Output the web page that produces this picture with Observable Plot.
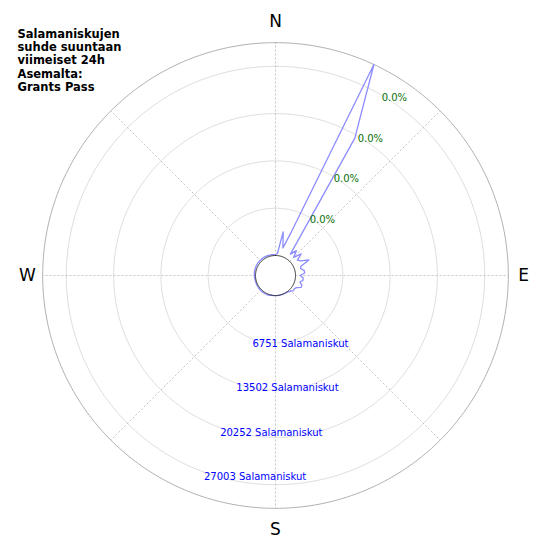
<!DOCTYPE html>
<html>
<head>
<meta charset="utf-8">
<script src="https://cdn.jsdelivr.net/npm/d3@7"></script>
<script src="https://cdn.jsdelivr.net/npm/@observablehq/plot@0.6"></script>
<style>
  html, body { margin: 0; padding: 0; background: white; }
</style>
</head>
<body>
<div id="chart"></div>
<script>
// ---- data ----
const titleLines = ["Salamaniskujen", "suhde suuntaan", "viimeiset 24h", "Asemalta:", "Grants Pass"];
const directions = [0,5,10,15,20,25,30,35,40,45,50,55,60,65,70,75,80,85,90,95,100,105,110,115,
  120,125,130,135,140,145,150,155,160,165,170,175,180,185,190,195,200,205,210,215,220,225,230,235,
  240,245,250,255,260,265,270,275,280,285,290,295,300,305,310,315,320,325,330,335,340,345,350,355];
const strikes = [100,300,3460,1220,3740,30378,19790,860,1790,810,1930,960,1300,2400,1010,860,1300,1320,680,1120,1120,760,1150,1170,
  630,430,500,290,140,40,30,20,20,20,20,30,30,30,40,60,120,140,150,150,150,140,150,140,
  130,130,120,120,130,150,160,180,200,200,210,220,220,230,230,230,220,220,210,200,190,170,150,120];
const ringValues = [6751, 13502, 20252, 27003];
const ringLabels = ["6751 Salamaniskut", "13502 Salamaniskut", "20252 Salamaniskut", "27003 Salamaniskut"];
const pctLabels = ["0.0%", "0.0%", "0.0%", "0.0%"];
const compassNS = ["N", "S"];
const compassNSAngles = [0, 180];
const compassEW = ["E", "W"];
const compassEWAngles = [90, 270];
const spokeAngles = [0, 45, 90, 135, 180, 225, 270, 315];

// ---- polar helpers (radial value offset by an inner hole) ----
const rMax = d3.max(strikes);
const rHole = 2855;                 // radial offset of the inner circle, in strike units
const pxPerUnit = 0.007006;
const D = 275 / pxPerUnit;          // half-extent of x/y domain
const rad = a => a * Math.PI / 180;
const px = (a, rho) => rho * Math.sin(rad(a));
const py = (a, rho) => rho * Math.cos(rad(a));
const circle = rho => d3.range(0, 361, 1).map(a => ({x: px(a, rho), y: py(a, rho)}));

const series = directions.map((a, i) => ({a, v: strikes[i]}));
series.push(series[0]);

const ringRho = ringValues.map(v => rHole + v);
const outerRho = rHole + rMax;

const spokes = spokeAngles.map(a => ({x1: px(a, rHole), y1: py(a, rHole), x2: px(a, outerRho), y2: py(a, outerRho)}));
const ringText = ringValues.map((v, i) => ({x: px(200, rHole + v), y: py(200, rHole + v), t: ringLabels[i]}));
const pctText = ringValues.map((v, i) => ({x: px(30.5, rHole + v), y: py(30.5, rHole + v), t: pctLabels[i]}));
const nsText = compassNS.map((t, i) => ({x: px(compassNSAngles[i], 254 / pxPerUnit), y: py(compassNSAngles[i], 254 / pxPerUnit), t}));
const ewText = compassEW.map((t, i) => ({x: px(compassEWAngles[i], 248 / pxPerUnit), y: py(compassEWAngles[i], 248 / pxPerUnit), t}));

const marks = [];
ringRho.forEach(rho => marks.push(Plot.line(circle(rho), {x: "x", y: "y", stroke: "#d4d4d4", strokeWidth: 0.8})));
marks.push(Plot.link(spokes, {x1: "x1", y1: "y1", x2: "x2", y2: "y2", stroke: "#b8b8b8", strokeWidth: 0.8, strokeDasharray: "2,2"}));
marks.push(Plot.line(circle(outerRho), {x: "x", y: "y", stroke: "#a8a8a8", strokeWidth: 0.9}));
marks.push(Plot.line(series, {
  x: d => px(d.a, rHole + d.v),
  y: d => py(d.a, rHole + d.v),
  stroke: "#8c8cff", strokeWidth: 1.3, curve: "linear"
}));
marks.push(Plot.line(circle(rHole), {x: "x", y: "y", stroke: "#222", strokeWidth: 1}));
marks.push(Plot.text(pctText, {x: "x", y: "y", text: "t", fill: "#0a700a", fontSize: 10, textAnchor: "start", lineAnchor: "middle", dy: 2.5}));
marks.push(Plot.text(ringText, {x: "x", y: "y", text: "t", fill: "#0000ff", fontSize: 10, textAnchor: "start", lineAnchor: "top", dy: 1}));
marks.push(Plot.text(nsText, {x: "x", y: "y", text: "t", fill: "#000", fontSize: 17, textAnchor: "middle", lineAnchor: "middle"}));
marks.push(Plot.text(ewText, {x: "x", y: "y", text: "t", fill: "#000", fontSize: 17, textAnchor: "middle", lineAnchor: "middle"}));
marks.push(Plot.text([titleLines.join("\n")], {
  frameAnchor: "top-left", text: d => d, dx: 17, dy: 28, fontSize: 11.5, fontWeight: "bold",
  fill: "#000", textAnchor: "start", lineAnchor: "top", lineHeight: 1.15
}));

const chart = Plot.plot({
  width: 550,
  height: 550,
  margin: 0,
  x: {domain: [-D, D], axis: null},
  y: {domain: [-D, D], axis: null},
  style: {fontFamily: "DejaVu Sans, sans-serif", background: "white"},
  marks
});
document.getElementById("chart").appendChild(chart);
</script>
</body>
</html>
